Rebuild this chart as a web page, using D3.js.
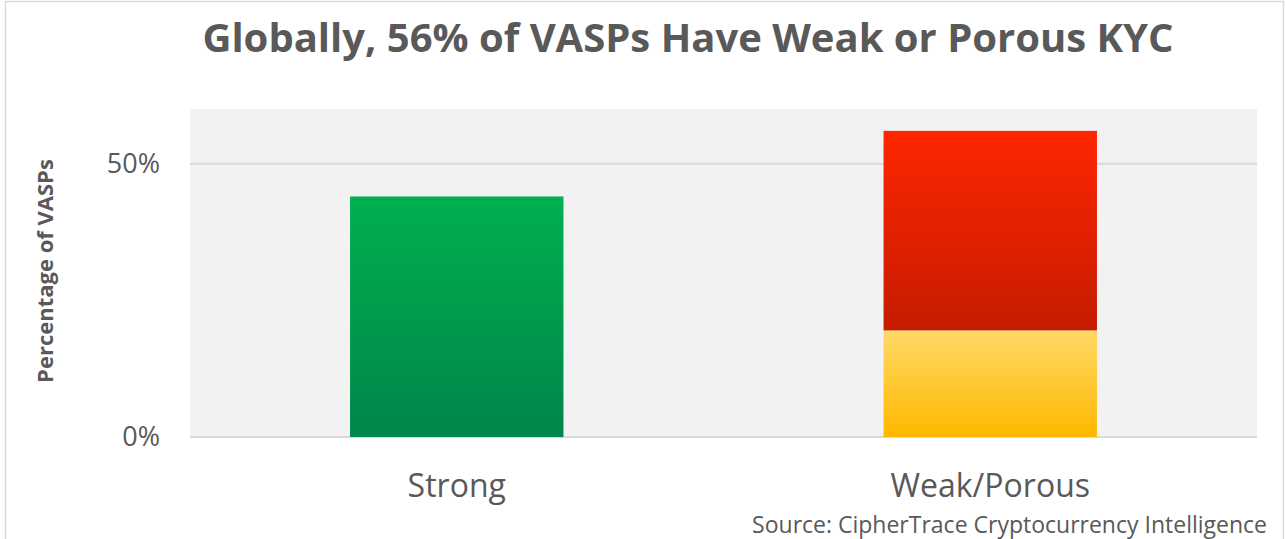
<!DOCTYPE html>
<html>
<head>
	<title>Globally, 56% of VASPs Have Weak or Porous KYC</title>
	<script src="https://d3js.org/d3.v7.min.js"></script>
	<style>
		body { margin: 0; background: #fff; }
		text { font-family: "Open Sans", sans-serif; fill: #595959; }
	</style>
</head>
<body>
	<div id="chart"></div>

	<script>
		// Data (percent of VASPs)
		const categories = ["Strong", "Weak/Porous"];
		const seriesNames = ["strong", "porous", "weak"];
		const strongValues = [44, 0];
		const porousValues = [0, 19.5];
		const weakValues = [0, 36.5];
		const tickValues = [0, 50];
		const tickLabels = ["0%", "50%"];

		const W = 1285, H = 539;
		const margin = { top: 109, right: 28, bottom: 102, left: 190 };
		const width = W - margin.left - margin.right;
		const height = H - margin.top - margin.bottom;

		const rows = categories.map((c, i) => ({
			category: c,
			strong: strongValues[i],
			porous: porousValues[i],
			weak: weakValues[i]
		}));
		const stacked = d3.stack().keys(seriesNames)(rows);

		const svg = d3.select("#chart")
			.append("svg")
			.attr("width", W)
			.attr("height", H);

		// gradients
		const defs = svg.append("defs");
		const grads = {
			strong: ["#00b050", "#00854a"],
			porous: ["#ffd966", "#ffb800"],
			weak: ["#ff2600", "#c41c00"]
		};
		Object.entries(grads).forEach(([k, c]) => {
			const g = defs.append("linearGradient")
				.attr("id", "g-" + k)
				.attr("x1", 0).attr("y1", 0).attr("x2", 0).attr("y2", 1);
			g.append("stop").attr("offset", "0%").attr("stop-color", c[0]);
			g.append("stop").attr("offset", "100%").attr("stop-color", c[1]);
		});

		// outer border
		svg.append("rect")
			.attr("x", 5.5).attr("y", 1.5)
			.attr("width", W - 7).attr("height", H + 5)
			.attr("fill", "none")
			.attr("stroke", "#d9d9d9")
			.attr("stroke-width", 1.5);

		const g = svg.append("g")
			.attr("transform", `translate(${margin.left},${margin.top})`);

		const x = d3.scaleBand()
			.domain(categories)
			.range([0, width])
			.paddingInner(0.6)
			.paddingOuter(0.3);
		const y = d3.scaleLinear()
			.domain([0, 60])
			.range([height, 0]);

		// plot background
		g.append("rect")
			.attr("width", width)
			.attr("height", height)
			.attr("fill", "#f2f2f2");

		// gridlines
		g.append("g")
			.selectAll("line")
			.data(tickValues)
			.join("line")
			.attr("x1", 0)
			.attr("x2", width)
			.attr("y1", d => y(d))
			.attr("y2", d => y(d))
			.attr("stroke", "#d9d9d9")
			.attr("stroke-width", 2);

		// bars
		g.append("g")
			.selectAll("g")
			.data(stacked)
			.join("g")
			.attr("fill", d => `url(#g-${d.key})`)
			.selectAll("rect")
			.data(d => d.filter(p => p[1] > p[0]))
			.join("rect")
			.attr("x", d => x(d.data.category))
			.attr("y", d => y(d[1]))
			.attr("width", x.bandwidth())
			.attr("height", d => y(d[0]) - y(d[1]));

		// y axis
		const yAxis = g.append("g")
			.call(d3.axisLeft(y)
				.tickValues(tickValues)
				.tickFormat((d, i) => tickLabels[i])
				.tickSize(0)
				.tickPadding(30));
		yAxis.select(".domain").remove();
		yAxis.selectAll("text")
			.attr("font-size", 27)
			.attr("fill", "#595959")
			.attr("font-family", null);

		// x axis
		const xAxis = g.append("g")
			.attr("transform", `translate(0,${height})`)
			.call(d3.axisBottom(x).tickSize(0).tickPadding(37));
		xAxis.select(".domain").remove();
		xAxis.selectAll("text")
			.attr("font-size", 32)
			.attr("fill", "#595959")
			.attr("font-family", null);

		// title
		svg.append("text")
			.attr("x", 688)
			.attr("y", 52)
			.attr("text-anchor", "middle")
			.attr("font-size", 40)
			.attr("font-weight", "bold")
			.text("Globally, 56% of VASPs Have Weak or Porous KYC");

		// y label
		svg.append("text")
			.attr("transform", `translate(53,${margin.top + height / 2 - 2}) rotate(-90)`)
			.attr("text-anchor", "middle")
			.attr("font-size", 22)
			.attr("font-weight", "bold")
			.text("Percentage of VASPs");

		// source
		svg.append("text")
			.attr("x", 1267)
			.attr("y", 533)
			.attr("text-anchor", "end")
			.attr("font-size", 23)
			.text("Source: CipherTrace Cryptocurrency Intelligence");
	</script>
</body>
</html>
